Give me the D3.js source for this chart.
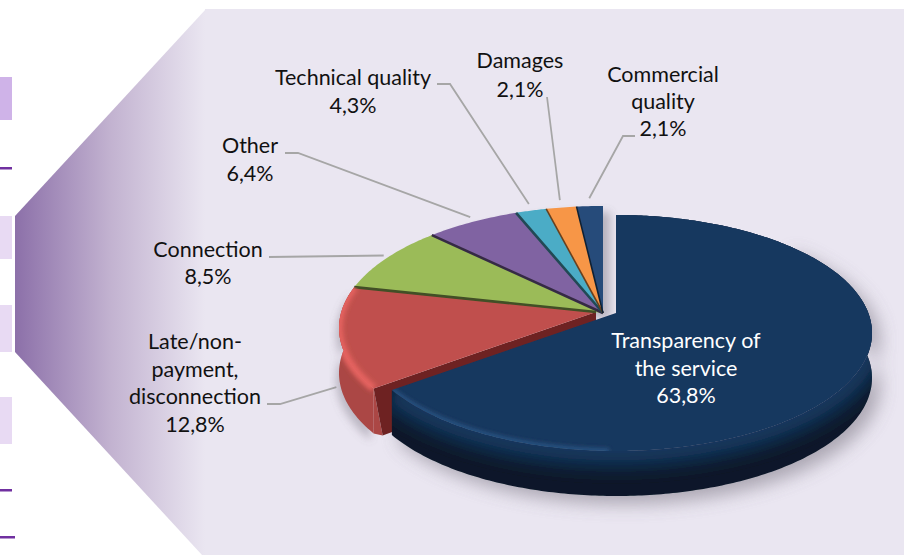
<!DOCTYPE html>
<html>

<head>
  <meta charset="utf-8">
  <script src="https://d3js.org/d3.v7.min.js"></script>
  <style>
    html, body { margin: 0; padding: 0; background: #fff; }
    svg { display: block; }
    text { font-family: Lato, sans-serif; font-size: 21.5px; fill: #111; text-anchor: middle; }
  </style>
</head>

<body>
  <svg id="viz" width="904" height="555"></svg>
</body>

<script>
  // chart values, clockwise from 12 o'clock
  var categories = ["Transparency of the service", "Late/non-payment, disconnection", "Connection", "Other", "Technical quality", "Damages", "Commercial quality"];
  var shares = [63.8, 12.8, 8.5, 6.4, 4.3, 2.1, 2.1];
  var shareLabels = ["63,8%", "12,8%", "8,5%", "6,4%", "4,3%", "2,1%", "2,1%"];
  var sliceColors = ["#17375e", "#c0504d", "#9bbb59", "#8064a2", "#4bacc6", "#f79646", "#264b7a"];
  var labelLines = [["Transparency of", "the service"], ["Late/non-", "payment,", "disconnection"], ["Connection"], ["Other"], ["Technical quality"], ["Damages"], ["Commercial", "quality"]];

  // page decoration on the left, cut off from the slide
  var sideBoxes = [[77, 43, "#cfb3e8"], [216, 43, "#e8daf3"], [305, 47, "#e8daf3"], [397, 47, "#e8daf3"]];
  var sideDashes = [[168, 12], [490, 12], [537, 15]];

  // label layout: centre x, first baseline, line height, leader elbow
  var labelPos = [
    { x: 686, y: 348, lh: 27.5 },
    { x: 195, y: 349, lh: 27.5, leader: [[267, 404], [280, 404]], drop: 46 },
    { x: 208, y: 257, lh: 27, leader: [[269, 257]], drop: 0 },
    { x: 250, y: 153, lh: 28, leader: [[285, 153], [298, 153]], drop: 0 },
    { x: 353, y: 85, lh: 28, leader: [[437, 84], [450, 84]], drop: 0 },
    { x: 520, y: 68, lh: 29, leader: [[547, 97]], drop: 0 },
    { x: 663, y: 82, lh: 27, leader: [[635, 136], [623, 136]], drop: 0 }
  ];

  // how the tilted view bends the slice edges, degrees
  var edgeAngles = [0, 238, 280.6, 309.6, 334.5, 343.3, 352.2, 360];

  var bigPie = { ax: 616, ay: 313, cx: 616, cy: 333, rx: 256, ry: 118 };
  var restPie = { ax: 603, ay: 313, cx: 603, cy: 328, rx: 264, ry: 122 };
  var redPie = { ax: 596, ay: 312, cx: 603, cy: 328, rx: 264, ry: 122 };
  var depth = 45;

  var svg = d3.select("#viz");
  var defs = svg.append("defs");

  function blur(id, sd) {
    defs.append("filter").attr("id", id)
      .attr("x", "-20%").attr("y", "-20%").attr("width", "140%").attr("height", "140%")
      .append("feGaussianBlur").attr("stdDeviation", sd);
  }
  blur("soft", 0.5);
  blur("b2", 2);
  blur("b4", 4);
  blur("b9", 9);

  var fade = defs.append("linearGradient").attr("id", "fade")
    .attr("gradientUnits", "userSpaceOnUse")
    .attr("x1", 15).attr("x2", 205).attr("y1", 0).attr("y2", 0);
  fade.append("stop").attr("offset", 0).attr("stop-color", "#8c70a9");
  fade.append("stop").attr("offset", 0.5).attr("stop-color", "#c2b2d0");
  fade.append("stop").attr("offset", 1).attr("stop-color", "#eae6f1");

  // background
  svg.selectAll("rect.box").data(sideBoxes).enter().append("rect").attr("class", "box")
    .attr("x", 0).attr("y", function(d) { return d[0]; })
    .attr("width", 12).attr("height", function(d) { return d[1]; })
    .attr("fill", function(d) { return d[2]; });
  svg.selectAll("rect.dash").data(sideDashes).enter().append("rect").attr("class", "dash")
    .attr("x", 0).attr("y", function(d) { return d[0] - 1; })
    .attr("width", function(d) { return d[1]; }).attr("height", 2.5)
    .attr("fill", "#7030a0");
  svg.append("path").attr("d", "M15,216L206,9L206,555L202,555L15,352Z").attr("fill", "url(#fade)");
  svg.append("rect").attr("x", 205).attr("y", 9).attr("width", 699).attr("height", 546).attr("fill", "#eae6f1");

  // pie angles
  var arcs = d3.pie().sort(null).value(function(d) { return d; })(shares);
  var line = d3.line().curve(d3.curveLinear);

  var skew = d3.scaleLinear()
    .domain([0].concat(arcs.map(function(d) { return d.endAngle; })))
    .range(edgeAngles.map(function(d) { return d * Math.PI / 180; }));

  // tilted pie: the apex sits above the ellipse centre
  function rim(t, g) {
    var w = skew(t);
    var dx = Math.sin(w), dy = -0.55 * Math.cos(w);
    var hx = (g.ax - g.cx) / g.rx, hy = (g.ay - g.cy) / g.ry;
    var a = dx * dx / (g.rx * g.rx) + dy * dy / (g.ry * g.ry);
    var b = 2 * (hx * dx / g.rx + hy * dy / g.ry);
    var c = hx * hx + hy * hy - 1;
    var s = (-b + Math.sqrt(b * b - 4 * a * c)) / (2 * a);
    return [g.ax + s * dx, g.ay + s * dy];
  }

  function rimPoints(a0, a1, g) {
    var n = Math.max(2, Math.ceil((a1 - a0) / 0.015));
    return d3.range(n + 1).map(function(i) { return rim(a0 + (a1 - a0) * i / n, g); });
  }

  function topPath(d, g) {
    return line([[g.ax, g.ay]].concat(rimPoints(d.startAngle, d.endAngle, g))) + "Z";
  }

  function bandPath(a0, a1, g) {
    var up = rimPoints(a0, a1, g);
    var down = up.map(function(p) { return [p[0], p[1] + depth]; }).reverse();
    return line(up.concat(down)) + "Z";
  }

  // leaders go under the pie
  arcs.forEach(function(d, i) {
    var pos = labelPos[i];
    if (!pos.leader) return;
    var mid = (d.startAngle + d.endAngle) / 2;
    var p = rim(mid, restPie);
    var len = Math.hypot(p[0] - restPie.ax, p[1] - restPie.ay);
    var end = [p[0] + (p[0] - restPie.ax) / len * 4, p[1] + (p[1] - restPie.ay) / len * 8 + pos.drop];
    svg.append("path").attr("d", line(pos.leader.concat([end])))
      .attr("stroke", "#a6a6a6").attr("stroke-width", 1.8).attr("fill", "none");
  });

  var pieG = svg.append("g").attr("filter", "url(#soft)");
  var big = arcs[0], red = arcs[1];

  // drop shadows
  pieG.append("path").attr("d", bandPath(big.startAngle + 0.9, big.endAngle, bigPie))
    .attr("transform", "translate(8,8)").attr("fill", "#77727f").attr("opacity", 0.55).attr("filter", "url(#b9)");
  pieG.append("path").attr("d", bandPath(red.startAngle, red.endAngle, redPie))
    .attr("transform", "translate(-3,7)").attr("fill", "#77727f").attr("opacity", 0.4).attr("filter", "url(#b4)");
  pieG.append("path").attr("d", topPath({ startAngle: arcs[2].startAngle, endAngle: arcs[6].endAngle }, restPie))
    .attr("transform", "translate(7,6)").attr("fill", "#77727f").attr("opacity", 0.45).attr("filter", "url(#b4)");

  // slice tops with a thin dark gap after each one
  arcs.slice(2).forEach(function(d, k) {
    pieG.append("path").attr("d", topPath(d, restPie)).attr("fill", sliceColors[k + 2]);
  });
  arcs.slice(2, 6).forEach(function(d, k) {
    pieG.append("path")
      .attr("d", line([[restPie.ax, restPie.ay], rim(d.endAngle, restPie)]))
      .attr("stroke", d3.color(sliceColors[k + 3]).darker(2.4))
      .attr("stroke-width", k < 2 ? 2.6 : 1.6).attr("fill", "none");
  });

  // red slice side, cut wall, top
  var redEnd = rim(red.startAngle, redPie);
  var redFoot = [redEnd[0] + 9, redEnd[1] + depth + 2];
  pieG.append("path").attr("d", bandPath(red.startAngle, red.endAngle, redPie)).attr("fill", "#ab4744");
  pieG.append("path")
    .attr("d", line([redEnd, redFoot, [redEnd[0], redEnd[1] + depth]]) + "Z")
    .attr("fill", "#ab4744");
  pieG.append("path")
    .attr("d", line([[redPie.ax, redPie.ay], redEnd, redFoot, [redPie.ax, redPie.ay + depth]]) + "Z")
    .attr("fill", "#6e2424");
  pieG.append("path").attr("d", topPath(red, redPie)).attr("fill", sliceColors[1]);
  pieG.append("path")
    .attr("d", line([[redPie.ax, redPie.ay], rim(red.endAngle, redPie)]))
    .attr("stroke", d3.color(sliceColors[2]).darker(2.4)).attr("stroke-width", 2.6).attr("fill", "none");

  // bevel on the red rim
  defs.append("clipPath").attr("id", "redClip").append("path")
    .attr("d", topPath(red, redPie) + bandPath(red.startAngle, red.endAngle, redPie));
  pieG.append("path").attr("d", line(rimPoints(red.startAngle, red.endAngle, redPie)))
    .attr("clip-path", "url(#redClip)").attr("filter", "url(#b2)")
    .attr("stroke", "#e4625f").attr("stroke-width", 8).attr("fill", "none");

  // big slice: side, bevel, top
  var bigBand = bandPath(big.startAngle, big.endAngle, bigPie);
  defs.append("clipPath").attr("id", "bigSide").append("path").attr("d", bigBand);
  defs.append("clipPath").attr("id", "bigTop").append("path").attr("d", topPath(big, bigPie));
  pieG.append("path").attr("d", bigBand).attr("fill", "#0a1929");
  pieG.append("path").attr("d", line(rimPoints(big.startAngle, big.endAngle, bigPie)))
    .attr("clip-path", "url(#bigSide)").attr("filter", "url(#b9)")
    .attr("stroke", "#17375e").attr("stroke-width", 30).attr("fill", "none");

  pieG.append("path").attr("d", topPath(big, bigPie)).attr("fill", "#17375e");
  pieG.append("path").attr("d", line(rimPoints(big.endAngle - 0.95, big.endAngle, bigPie)))
    .attr("clip-path", "url(#bigTop)").attr("filter", "url(#b2)")
    .attr("stroke", "#2c5584").attr("stroke-width", 5).attr("fill", "none");

  // labels
  categories.forEach(function(name, i) {
    var pos = labelPos[i];
    var lines = labelLines[i].concat([shareLabels[i]]);
    var t = svg.append("text").attr("aria-label", name);
    t.selectAll("tspan").data(lines).enter().append("tspan")
      .attr("x", pos.x)
      .attr("y", function(d, k) { return pos.y + k * pos.lh; })
      .style("fill", i == 0 ? "#fff" : "#111")
      .text(function(d) { return d; });
  });
</script>

</html>
